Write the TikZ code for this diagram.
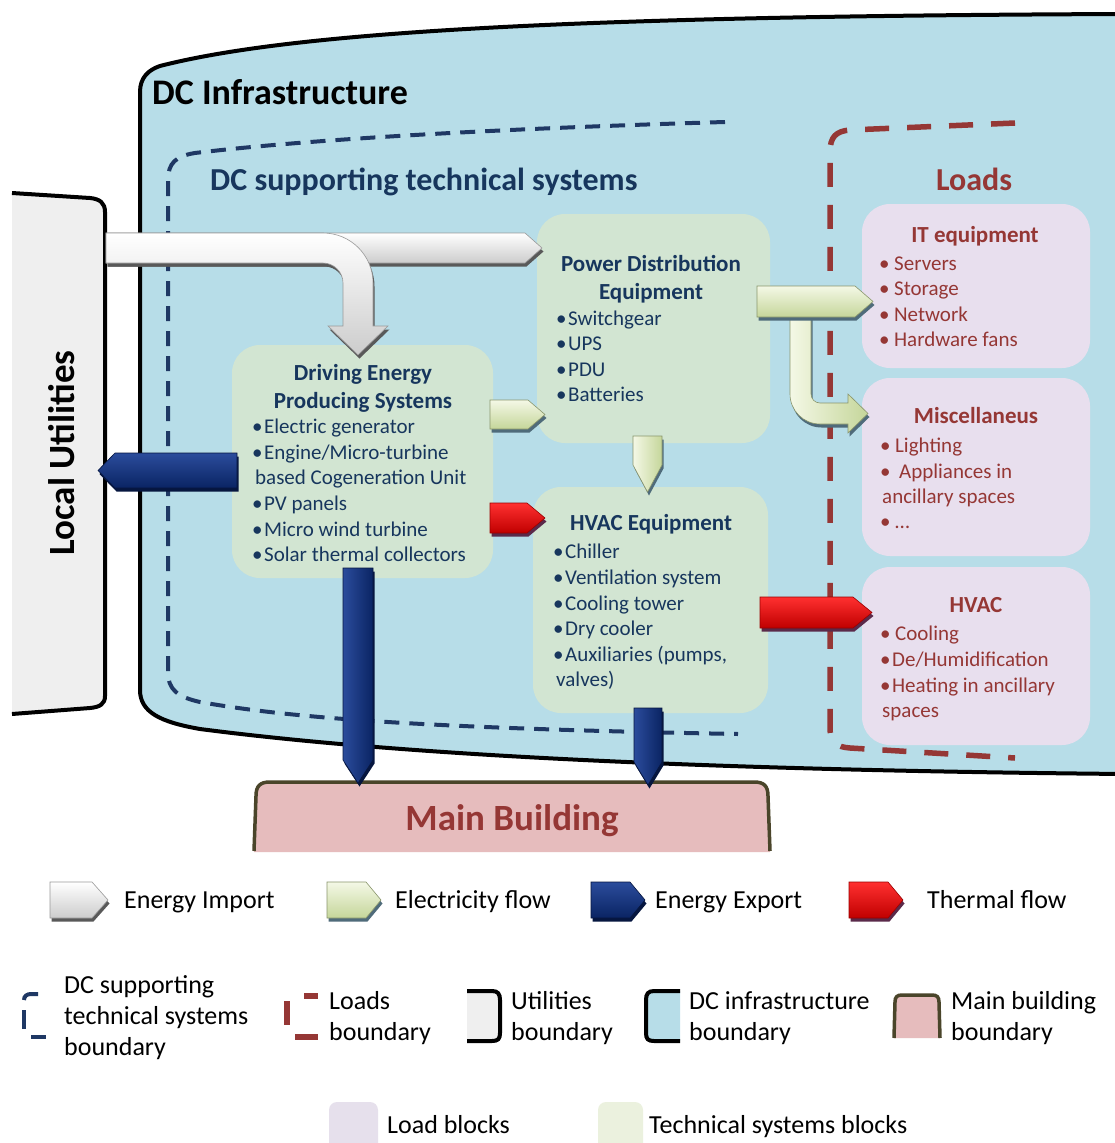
\documentclass[tikz,border=0pt]{standalone}
\usepackage{fontspec}
\setmainfont{Carlito}
\definecolor{dcblue}{HTML}{B7DDE8}
\definecolor{navy}{HTML}{17365D}
\definecolor{navydash}{HTML}{1F3864}
\definecolor{dred}{HTML}{953735}
\definecolor{techfill}{HTML}{D2E5D2}
\definecolor{loadfill}{HTML}{E8DFEE}
\definecolor{utilfill}{HTML}{EFEFEF}
\definecolor{mbfill}{HTML}{E6BCBD}
\definecolor{mbline}{HTML}{4A452A}
\definecolor{lgload}{HTML}{E6E0EC}
\definecolor{lgtech}{HTML}{EBF1DE}
\definecolor{elecT}{HTML}{F4F8E6}
\definecolor{elecB}{HTML}{C5D69A}
\definecolor{elecE}{HTML}{4F6B7A}
\definecolor{expT}{HTML}{2B4C9C}
\definecolor{expB}{HTML}{0A2463}
\definecolor{expE}{HTML}{06163F}
\definecolor{thT}{HTML}{FF3030}
\definecolor{thB}{HTML}{C00000}
\definecolor{thE}{HTML}{5A2A4A}
\tikzset{
  bnd/.style={line width=4pt, draw=black, line join=round},
  techblock/.style={fill=techfill, rounded corners=28pt, inner sep=0pt, outer sep=0pt},
  loadblock/.style={fill=loadfill, rounded corners=28pt, inner sep=0pt, outer sep=0pt},
  ttl/.style={font=\fontsize{23}{28}\selectfont\bfseries, text=navy, anchor=base, inner sep=0pt},
  itm/.style={font=\fontsize{21}{25.5}\selectfont, text=navy, anchor=base west, inner sep=0pt},
  lttl/.style={ttl, text=dred},
  litm/.style={itm, text=dred},
  lgd/.style={font=\fontsize{26}{31}\selectfont, text=black, anchor=base west, inner sep=0pt},
  impext/.style={fill=black!65},
  impface/.style={top color=white, bottom color=black!20, draw=black!40, line width=0.6pt},
  impvface/.style={left color=white, right color=black!25, draw=black!40, line width=0.6pt},
  elecext/.style={fill=elecE},
  elecface/.style={top color=elecT, bottom color=elecB, draw=elecB!70!black, line width=0.6pt},
  elecvface/.style={left color=elecT, right color=elecB, draw=elecB!70!black, line width=0.6pt},
  expext/.style={fill=expE},
  expface/.style={top color=expT, bottom color=expB, draw=expE, line width=0.6pt},
  expvface/.style={left color=expT, right color=expB, draw=expE, line width=0.6pt},
  thext/.style={fill=thE},
  thface/.style={top color=thT, bottom color=thB, draw=thB!80!black, line width=0.6pt},
}
\newcommand\blockarr[3]{%
  \fill[#1, xshift=1.5pt, yshift=-3.5pt] #3;
  \path[#2] #3;
}
\newcommand\bl{•\hspace{1.5pt}}
\newcommand\lbl{•\hspace{4.5pt}}
\begin{document}
\begin{tikzpicture}[x=1pt,y=-1pt]
\useasboundingbox (0,0) rectangle (1114,1143);
\fill[white] (0,0) rectangle (1114,1143);

% ---------- DC infrastructure boundary ----------
\path[fill=dcblue] (140,690) -- (140,92) .. controls (140,78) and (148,70) .. (160,66)
  .. controls (300,30) and (600,16) .. (1125,14) -- (1125,774)
  .. controls (700,770) and (400,755) .. (200,729)
  .. controls (160,722) and (140,712) .. (140,690) -- cycle;
\draw[bnd] (1125,14) .. controls (600,16) and (300,30) .. (160,66)
  .. controls (148,70) and (140,78) .. (140,92) -- (140,690)
  .. controls (140,712) and (160,722) .. (200,729)
  .. controls (400,755) and (700,770) .. (1125,774);
\node[font=\fontsize{36}{40}\selectfont\bfseries, anchor=base west, inner sep=0pt] (dctitle) at (152,104) {DC Infrastructure};

% ---------- Local utilities ----------
\path[fill=utilfill] (12,193) -- (90,198) .. controls (100,199) and (105,203) .. (105,212)
  -- (105,696) .. controls (105,704) and (100,707) .. (90,708) -- (12,714) -- cycle;
\draw[bnd] (12,193) -- (90,198) .. controls (100,199) and (105,203) .. (105,212)
  -- (105,696) .. controls (105,704) and (100,707) .. (90,708) -- (12,714);
\node[font=\fontsize{37}{40}\selectfont\bfseries, anchor=base, rotate=90, inner sep=0pt] (util) at (74,453) {Local Utilities};

% ---------- Main building ----------
\path[fill=mbfill] (254,852) -- (256,796) .. controls (256,786) and (260,782) .. (270,782)
  -- (754,782) .. controls (764,782) and (768,786) .. (768,796) -- (770,852) -- cycle;
\draw[mbline, line width=3.5pt] (254,851) -- (256,796) .. controls (256,786) and (260,782) .. (270,782)
  -- (754,782) .. controls (764,782) and (768,786) .. (768,796) -- (770,851);
\node[font=\fontsize{37}{40}\selectfont\bfseries, text=dred, anchor=base, inner sep=0pt] (mb) at (512,830) {Main Building};

% ---------- DC supporting technical systems boundary ----------
\draw[navydash, line width=4pt, dash pattern=on 15pt off 10pt]
  (725,122) .. controls (520,128) and (320,138) .. (195,153)
  .. controls (176,156) and (168,163) .. (168,180) -- (168,672)
  .. controls (168,690) and (178,697) .. (200,702)
  .. controls (280,716) and (400,728) .. (738,734);
\node[font=\fontsize{32}{36}\selectfont\bfseries, text=navy, anchor=base west, inner sep=0pt] (dcs) at (210,190) {DC supporting technical systems};

% ---------- Loads boundary ----------
\draw[dred, line width=5.5pt, dash pattern=on 24pt off 18pt]
  (1015,123) -- (850,130) .. controls (836,131) and (830,137) .. (830,152) -- (830,728)
  .. controls (830,742) and (836,747) .. (850,748) -- (1015,758);
\node[font=\fontsize{32}{36}\selectfont\bfseries, text=dred, anchor=base, inner sep=0pt] (loads) at (974,190) {Loads};

% ---------- blocks ----------
\node[techblock, minimum width=233pt, minimum height=229pt] (pd) at (653.5,328.5) {};
\node[techblock, minimum width=261pt, minimum height=233pt] (drv) at (362.5,461.5) {};
\node[techblock, minimum width=235pt, minimum height=226pt] (hvq) at (650.5,600) {};
\node[loadblock, minimum width=228pt, minimum height=164pt] (it) at (976,286) {};
\node[loadblock, minimum width=228pt, minimum height=178pt] (misc) at (976,467) {};
\node[loadblock, minimum width=228pt, minimum height=178pt] (hvl) at (976,656) {};

% ---------- arrows ----------
% energy import (straight + bent)
\blockarr{impext}{impface}{(106,233) -- (525,233) -- (542,248) -- (525,263) -- (106,263) -- cycle}
\blockarr{impext}{impface}{(106,233) -- (323,233) .. controls (350.6,233) and (373,255.4) .. (373,283) -- (373,326) -- (388,326) -- (358,355) -- (328,326) -- (343,326) -- (343,283) .. controls (343,272) and (334,263) .. (323,263) -- (106,263) -- cycle}
% energy export
\blockarr{expext}{expface}{(237,453) -- (115,453) -- (98,470.5) -- (115,488) -- (237,488) -- cycle}
\blockarr{expext}{expvface}{(343,568) -- (373,568) -- (373,760) -- (358,783) -- (343,760) -- cycle}
\blockarr{expext}{expvface}{(634,708) -- (662,708) -- (662,762) -- (648,785) -- (634,762) -- cycle}
% electricity
\blockarr{elecext}{elecface}{(490,400) -- (528,400) -- (545,414.5) -- (528,429) -- (490,429) -- cycle}
\blockarr{elecext}{elecvface}{(633,436) -- (662,436) -- (662,465) -- (647.5,492) -- (633,465) -- cycle}
\blockarr{elecext}{elecvface}{(790,310) -- (790,394) .. controls (790,410.6) and (803.4,424) .. (820,424) -- (848,424) -- (848,433) -- (868,413.5) -- (848,394) -- (848,403) -- (820,403) .. controls (815,403) and (811,399) .. (811,394) -- (811,310) -- cycle}
\blockarr{elecext}{elecface}{(757,286) -- (855,286) -- (873,301.5) -- (855,317) -- (757,317) -- cycle}
% thermal
\blockarr{thext}{thface}{(490,503) -- (527,503) -- (545,518) -- (527,533) -- (490,533) -- cycle}
\blockarr{thext}{thface}{(760,597) -- (853,597) -- (872,612.5) -- (853,628) -- (760,628) -- cycle}

% ---------- block texts ----------
\node[ttl] (pdt1) at (651,271) {Power Distribution};
\node[ttl] (pdt2) at (651,299) {Equipment};
\node[itm] (pdi1) at (556,325) {\bl Switchgear};
\node[itm] (pdi2) at (556,350.5) {\bl UPS};
\node[itm] (pdi3) at (556,376) {\bl PDU};
\node[itm] (pdi4) at (556,401.5) {\bl Batteries};

\node[ttl] (drt1) at (363,380) {Driving Energy};
\node[ttl] (drt2) at (363,408) {Producing Systems};
\node[itm] (dri1) at (252,433) {\bl Electric generator};
\node[itm] (dri2) at (252,459) {\bl Engine/Micro-turbine};
\node[itm] (dri3) at (255,484) {based Cogeneration Unit};
\node[itm] (dri4) at (252,510) {\bl PV panels};
\node[itm] (dri5) at (252,536) {\bl Micro wind turbine};
\node[itm] (dri6) at (252,561) {\bl Solar thermal collectors};

\node[ttl] (hvt) at (651,530) {HVAC Equipment};
\node[itm] (hvi1) at (553,558) {\bl Chiller};
\node[itm] (hvi2) at (553,584) {\bl Ventilation system};
\node[itm] (hvi3) at (553,610) {\bl Cooling tower};
\node[itm] (hvi4) at (553,635) {\bl Dry cooler};
\node[itm] (hvi5) at (553,661) {\bl Auxiliaries (pumps,};
\node[itm] (hvi6) at (556,686) {valves)};

\node[lttl] (itt) at (975,242) {IT equipment};
\node[litm] (iti1) at (879,270) {\lbl Servers};
\node[litm] (iti2) at (879,295) {\lbl Storage};
\node[litm] (iti3) at (879,321) {\lbl Network};
\node[litm] (iti4) at (879,346) {\lbl Hardware fans};

\node[lttl] (mst) at (976,423) {Miscellaneus};
\node[litm] (msi1) at (880,452) {\lbl Lighting};
\node[litm] (msi2) at (880,478) {\lbl\hspace{4pt}Appliances in};
\node[litm] (msi3) at (882,503) {ancillary spaces};
\node[litm] (msi4) at (880,528) {\lbl …};

\node[lttl] (hlt) at (976,612) {HVAC};
\node[litm] (hli1) at (880,640) {\lbl Cooling};
\node[litm] (hli2) at (880,666) {\bl De/Humidification};
\node[litm] (hli3) at (880,692) {\bl Heating in ancillary};
\node[litm] (hli4) at (882,717) {spaces};

% ---------- legend row 1 ----------
\blockarr{impext}{impface}{(50,882) -- (92,882) -- (108,900) -- (92,918) -- (50,918) -- cycle}
\node[lgd] (lg1) at (124,908) {Energy Import};
\blockarr{elecext}{elecface}{(327,882) -- (366,882) -- (381,900) -- (366,918) -- (327,918) -- cycle}
\node[lgd] (lg2) at (395,908) {Electricity flow};
\blockarr{expext}{expface}{(591,882) -- (630,882) -- (645,900) -- (630,918) -- (591,918) -- cycle}
\node[lgd] (lg3) at (655,908) {Energy Export};
\blockarr{thext}{thface}{(849,882) -- (888,882) -- (903,900) -- (888,918) -- (849,918) -- cycle}
\node[lgd] (lg4) at (927,908) {Thermal flow};

% ---------- legend row 2 ----------
\draw[navydash, line width=4pt] (38,994) -- (31,994) .. controls (27,994) and (24,996) .. (24,1000);
\draw[navydash, line width=4pt] (24,1010) -- (24,1029);
\draw[navydash, line width=4pt] (31,1037) -- (46,1037);
\node[lgd] (lg5a) at (64,993) {DC supporting};
\node[lgd] (lg5b) at (64,1024) {technical systems};
\node[lgd] (lg5c) at (64,1055) {boundary};

\draw[dred, line width=5.5pt] (304,996) -- (318,996);
\draw[dred, line width=5.5pt] (287,1001) -- (287,1025);
\draw[dred, line width=5.5pt] (295,1037) -- (318,1037);
\node[lgd] (lg6a) at (329,1009) {Loads};
\node[lgd] (lg6b) at (329,1040) {boundary};

\path[fill=utilfill] (467,991) -- (492,991) .. controls (498,991) and (500,994) .. (500,1000)
  -- (500,1033) .. controls (500,1039) and (498,1041) .. (492,1041) -- (467,1041) -- cycle;
\draw[line width=4pt] (467,991) -- (492,991) .. controls (498,991) and (500,994) .. (500,1000)
  -- (500,1033) .. controls (500,1039) and (498,1041) .. (492,1041) -- (467,1041);
\node[lgd] (lg7a) at (511,1009) {Utilities};
\node[lgd] (lg7b) at (511,1040) {boundary};

\path[fill=dcblue] (680,991) -- (654,991) .. controls (648,991) and (646,994) .. (646,1000)
  -- (646,1033) .. controls (646,1039) and (648,1041) .. (654,1041) -- (680,1041) -- cycle;
\draw[line width=4pt] (680,991) -- (654,991) .. controls (648,991) and (646,994) .. (646,1000)
  -- (646,1033) .. controls (646,1039) and (648,1041) .. (654,1041) -- (680,1041);
\node[lgd] (lg8a) at (689,1009) {DC infrastructure};
\node[lgd] (lg8b) at (689,1040) {boundary};

\path[fill=mbfill] (894,1038) -- (895,1002) .. controls (895,997) and (897,995) .. (902,995)
  -- (932,995) .. controls (937,995) and (939,997) .. (939,1002) -- (940,1038) -- cycle;
\draw[mbline, line width=3.5pt] (894,1038) -- (895,1002) .. controls (895,997) and (897,995) .. (902,995)
  -- (932,995) .. controls (937,995) and (939,997) .. (939,1002) -- (940,1038);
\node[lgd] (lg9a) at (951,1009) {Main building};
\node[lgd] (lg9b) at (951,1040) {boundary};

% ---------- legend row 3 ----------
\path[fill=lgload, rounded corners=8pt] (329,1150) -- (329,1102) -- (378,1102) -- (378,1150);
\node[lgd] (lg10) at (387,1133) {Load blocks};
\path[fill=lgtech, rounded corners=8pt] (598,1150) -- (598,1102) -- (643,1102) -- (643,1150);
\node[lgd] (lg11) at (649,1133) {Technical systems blocks};
\end{tikzpicture}
\end{document}
